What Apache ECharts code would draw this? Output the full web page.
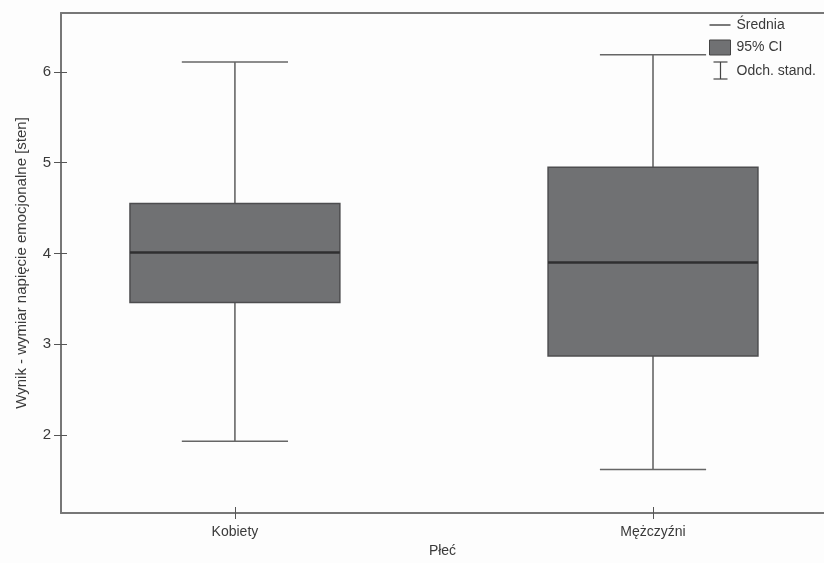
<!DOCTYPE html>
<html>
<head>
<meta charset="utf-8">
<script src="https://cdn.jsdelivr.net/npm/echarts@6/dist/echarts.min.js"></script>
<style>
html,body{margin:0;padding:0;background:#fdfdfd;}
#chart{width:824px;height:563px;}
</style>
</head>
<body>
<div id="chart"></div>
<script>
// ---- data ----
var categories = ['Kobiety', 'Mężczyźni'];
var categoryPos = [1, 2];
var means  = [4.01, 3.90];
var ciLow  = [3.46, 2.87];
var ciHigh = [4.55, 4.95];
var sdLow  = [1.93, 1.62];
var sdHigh = [6.11, 6.19];
var yTicks = [2, 3, 4, 5, 6];
var legendLabels = ['Średnia', '95% CI', 'Odch. stand.'];
var yTitle = 'Wynik - wymiar napięcie emocjonalne [sten]';
var xTitle = 'Płeć';

// ---- styles ----
var FONT = 'Liberation Sans, Arial, sans-serif';
var TXT = '#3a3a3a';
var AXIS = '#777';
var BOX_W = 0.502;
var CAP_W = 0.254;

var whiskerData = categoryPos.map(function (x, i) { return [x, sdLow[i], sdHigh[i], ciLow[i], ciHigh[i]]; });
var boxData = categoryPos.map(function (x, i) { return [x, ciLow[i], ciHigh[i]]; });
var meanData = categoryPos.map(function (x, i) { return [x, means[i]]; });

var chart = echarts.init(document.getElementById('chart'), null, {renderer: 'canvas'});

var xMin = 0.584, xMax = 2.409, yMin = 1.14, yMax = 6.65;

function baseX(extra) {
  return Object.assign({
    type: 'value', min: xMin, max: xMax, splitLine: {show: false}
  }, extra);
}
function baseY(extra) {
  return Object.assign({
    type: 'value', min: yMin, max: yMax, splitLine: {show: false}
  }, extra);
}

var option = {
  backgroundColor: '#fdfdfd',
  animation: false,
  grid: {left: 61, right: 0, top: 13, bottom: 50, containLabel: false},
  xAxis: [
    baseX({
      position: 'bottom',
      name: xTitle, nameLocation: 'middle', nameGap: 29,
      nameTextStyle: {color: TXT, fontSize: 14, fontFamily: FONT},
      axisLine: {show: true, lineStyle: {color: AXIS, width: 2}},
      axisTick: {show: true, length: 6, customValues: categoryPos, lineStyle: {color: '#555', width: 1}},
      axisLabel: {show: true, customValues: categoryPos, margin: 12, color: TXT, fontSize: 14, fontFamily: FONT,
        formatter: function (v) { var i = categoryPos.indexOf(v); return i >= 0 ? categories[i] : ''; }}
    }),
    baseX({
      position: 'bottom',
      axisLine: {show: false},
      axisTick: {show: true, inside: true, length: 6, customValues: categoryPos, lineStyle: {color: '#555', width: 1}},
      axisLabel: {show: false}
    }),
    baseX({
      position: 'top',
      axisLine: {show: true, lineStyle: {color: AXIS, width: 2}},
      axisTick: {show: false},
      axisLabel: {show: false}
    })
  ],
  yAxis: [
    baseY({
      position: 'left',
      name: yTitle, nameLocation: 'middle', nameGap: 32,
      nameTextStyle: {color: TXT, fontSize: 15, fontFamily: FONT},
      axisLine: {show: true, lineStyle: {color: AXIS, width: 2}},
      axisTick: {show: true, length: 7, customValues: yTicks, lineStyle: {color: '#555', width: 1}},
      axisLabel: {show: true, customValues: yTicks, margin: 10, color: TXT, fontSize: 15, fontFamily: FONT}
    }),
    baseY({
      position: 'left',
      axisLine: {show: false},
      axisTick: {show: true, inside: true, length: 6, customValues: yTicks, lineStyle: {color: '#555', width: 1}},
      axisLabel: {show: false}
    })
  ],
  series: [
    {
      name: legendLabels[2],
      type: 'custom',
      xAxisIndex: 0, yAxisIndex: 0,
      data: whiskerData,
      encode: {x: 0, y: [1, 2, 3, 4]},
      renderItem: function (params, api) {
        var x = api.value(0);
        var pLo = api.coord([x, api.value(1)]);
        var pHi = api.coord([x, api.value(2)]);
        var pQ1 = api.coord([x, api.value(3)]);
        var pQ3 = api.coord([x, api.value(4)]);
        var cw = api.size([CAP_W, 0])[0];
        var st = {stroke: '#666', lineWidth: 1.6};
        return {type: 'group', children: [
          {type: 'line', shape: {x1: pHi[0], y1: pHi[1], x2: pQ3[0], y2: pQ3[1]}, style: st},
          {type: 'line', shape: {x1: pQ1[0], y1: pQ1[1], x2: pLo[0], y2: pLo[1]}, style: st},
          {type: 'line', shape: {x1: pHi[0] - cw / 2, y1: pHi[1], x2: pHi[0] + cw / 2, y2: pHi[1]}, style: st},
          {type: 'line', shape: {x1: pLo[0] - cw / 2, y1: pLo[1], x2: pLo[0] + cw / 2, y2: pLo[1]}, style: st}
        ]};
      }
    },
    {
      name: legendLabels[1],
      type: 'custom',
      xAxisIndex: 0, yAxisIndex: 0,
      data: boxData,
      encode: {x: 0, y: [1, 2]},
      renderItem: function (params, api) {
        var x = api.value(0);
        var pLo = api.coord([x, api.value(1)]);
        var pHi = api.coord([x, api.value(2)]);
        var bw = api.size([BOX_W, 0])[0];
        return {type: 'rect',
          shape: {x: pHi[0] - bw / 2, y: pHi[1], width: bw, height: pLo[1] - pHi[1]},
          style: {fill: '#707173', stroke: '#4d4d4f', lineWidth: 1.5}};
      }
    },
    {
      name: legendLabels[0],
      type: 'custom',
      xAxisIndex: 0, yAxisIndex: 0,
      data: meanData,
      encode: {x: 0, y: 1},
      renderItem: function (params, api) {
        var x = api.value(0);
        var p = api.coord([x, api.value(1)]);
        var bw = api.size([BOX_W, 0])[0];
        return {type: 'line',
          shape: {x1: p[0] - bw / 2, y1: p[1], x2: p[0] + bw / 2, y2: p[1]},
          style: {stroke: '#2f2f30', lineWidth: 2.5}};
      }
    }
  ],
  graphic: [
    {type: 'group', left: 707, top: 18, children: [
      {type: 'line', shape: {x1: 0, y1: 7, x2: 21, y2: 7}, style: {stroke: '#333', lineWidth: 1.3}},
      {type: 'text', x: 27, y: 7, style: {text: legendLabels[0], fill: TXT, font: '14px ' + FONT, verticalAlign: 'middle'}},
      {type: 'rect', shape: {x: 0, y: 22, width: 21, height: 15}, style: {fill: '#707173', stroke: '#444', lineWidth: 1}},
      {type: 'text', x: 27, y: 29, style: {text: legendLabels[1], fill: TXT, font: '14px ' + FONT, verticalAlign: 'middle'}},
      {type: 'line', shape: {x1: 11, y1: 44, x2: 11, y2: 61}, style: {stroke: '#444', lineWidth: 1.2}},
      {type: 'line', shape: {x1: 4, y1: 44, x2: 18, y2: 44}, style: {stroke: '#444', lineWidth: 1.2}},
      {type: 'line', shape: {x1: 4, y1: 61, x2: 18, y2: 61}, style: {stroke: '#444', lineWidth: 1.2}},
      {type: 'text', x: 27, y: 53, style: {text: legendLabels[2], fill: TXT, font: '14px ' + FONT, verticalAlign: 'middle'}}
    ]}
  ]
};
chart.setOption(option);
</script>
</body>
</html>
